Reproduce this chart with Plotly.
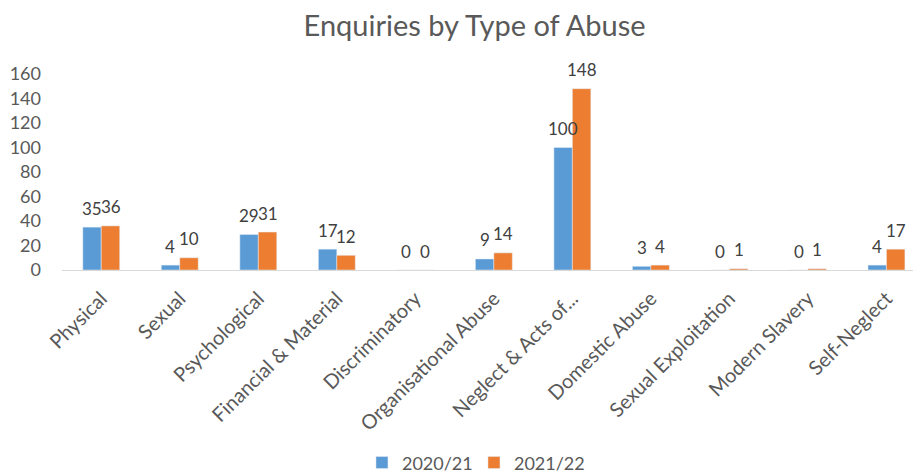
import plotly.graph_objects as go

categories = ["Physical", "Sexual", "Psychological", "Financial & Material", "Discriminatory",
              "Organisational Abuse", "Neglect & Acts of...", "Domestic Abuse",
              "Sexual Exploitation", "Modern Slavery", "Self-Neglect"]
series_2020 = [35, 4, 29, 17, 0, 9, 100, 3, 0, 0, 4]
series_2021 = [36, 10, 31, 12, 0, 14, 148, 4, 1, 1, 17]
y_ticks = [0, 20, 40, 60, 80, 100, 120, 140, 160]

FONT = "Lato"
BLUE, ORANGE = "#5B9BD5", "#ED7D31"

# page body has an 8px margin; figure is sized/offset to compensate
W, H = 913, 467
fig = go.Figure()
fig.add_trace(go.Bar(name="2020/21", x=categories, y=series_2020, marker_color=BLUE, legend="legend"))
fig.add_trace(go.Bar(name="2021/22", x=categories, y=series_2021, marker_color=ORANGE, legend="legend2"))

half_bar_px = 9.3
for series, shift in ((series_2020, -half_bar_px), (series_2021, half_bar_px)):
    for cat, val in zip(categories, series):
        fig.add_annotation(x=cat, y=val, text=str(val), showarrow=False,
                           xshift=shift, yshift=19, yanchor="middle", xanchor="center",
                           font=dict(family=FONT, size=17, color="#404040"))

legend_style = dict(orientation="h", xanchor="left", yref="container", y=0.026, yanchor="middle",
                    font=dict(family=FONT, size=18, color="#595959"), itemwidth=30,
                    bgcolor="rgba(0,0,0,0)")

fig.update_layout(
    width=W, height=H,
    margin=dict(l=54, r=0, t=66, b=205),
    paper_bgcolor="white", plot_bgcolor="white",
    barmode="group", bargap=0.53, bargroupgap=0,
    title=dict(text="Enquiries by Type of Abuse", x=0.511, xanchor="center", y=0.962, yanchor="middle",
               font=dict(family=FONT, size=29, color="#595959")),
    font=dict(family=FONT, color="#595959"),
    showlegend=True,
    legend=dict(x=0.3492, **legend_style),
    legend2=dict(x=0.4796, **legend_style),
    xaxis=dict(range=[-0.5, 10.44], showline=True, linecolor="#D9D9D9", linewidth=1,
               tickangle=-45, tickfont=dict(family=FONT, size=20, color="#595959"),
               ticklabelstandoff=8, showgrid=False, automargin=False),
    yaxis=dict(range=[0, 160], tickvals=y_ticks, showgrid=False, zeroline=False,
               tickfont=dict(family=FONT, size=18, color="#595959"), ticklabelstandoff=20,
               automargin=False),
)
fig.write_html("out.html")
